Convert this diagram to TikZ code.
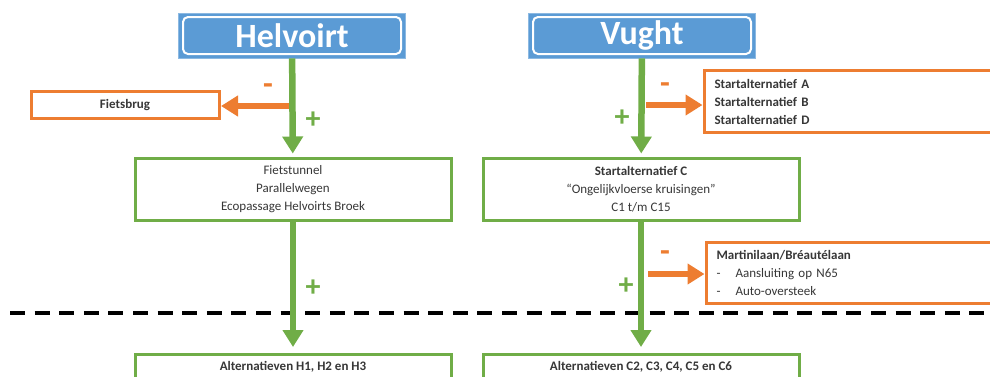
\documentclass[tikz,border=0pt]{standalone}
\usepackage{fontspec}
\setmainfont{Carlito}
\usetikzlibrary{arrows.meta,positioning}
\definecolor{signblue}{RGB}{91,155,213}
\definecolor{plusgreen}{RGB}{112,173,71}
\definecolor{minorange}{RGB}{237,125,49}
\definecolor{boxtext}{RGB}{55,55,55}
\tikzset
{
    placesign/.style = {rectangle, fill=signblue, draw=signblue!70, line width=0.8pt, minimum width=227pt, minimum height=45pt, text=white, font=\fontsize{34}{36}\selectfont\bfseries,
                        path picture={\draw[white, line width=2pt, rounded corners=5pt] ([shift={(4.5pt,4pt)}]path picture bounding box.south west) rectangle ([shift={(-4.5pt,-4pt)}]path picture bounding box.north east);}},
    greenbox/.style  = {rectangle, draw=plusgreen, line width=3pt, fill=white, align=center, text=boxtext, font=\fontsize{13}{18}\selectfont, minimum width=316pt, minimum height=62pt},
    orangebox/.style = {rectangle, draw=minorange, line width=3pt, fill=white, align=left, text=boxtext, font=\fontsize{13}{18}\selectfont, inner xsep=10pt},
    plusarrow/.style = {-{Triangle[width=20pt,length=17pt]}, draw=plusgreen, line width=6.5pt},
    minarrow/.style  = {-{Triangle[width=20pt,length=17pt]}, draw=minorange, line width=6.5pt},
    plussign/.style  = {text=plusgreen, font=\fontsize{30}{30}\selectfont\bfseries},
    minsign/.style   = {text=minorange, font=\fontsize{32}{32}\selectfont\bfseries}
}
\newcommand{\listdash}{\makebox[19pt][l]{-}}

\begin{document}
\begin{tikzpicture}[x=1pt, y=-1pt]
\useasboundingbox (0,0) rectangle (990,376);
\clip (0,0) rectangle (990,376);

%% dashed border between the two phases
\draw[black, line width=3.5pt, dash pattern=on 15pt off 9.6pt] (10,313) -- (1000,313);

%% Helvoirt
\node (helv)    [placesign]                         at (292,35.5)   {Helvoirt};
\node (fiets)   [orangebox, minimum width=188pt, minimum height=27pt, align=center, font=\fontsize{13}{18}\selectfont\bfseries] at (125,105) {Fietsbrug};
\node (tunnel)  [greenbox]                          at (293,189)    {Fietstunnel \\ Parallelwegen \\ Ecopassage Helvoirts Broek};
\node (alth)    [greenbox, anchor=north, minimum height=0pt, inner ysep=7pt, text depth=40pt, font=\fontsize{13}{18}\selectfont\bfseries] at (293,353) {Alternatieven H1, H2 en H3};
\coordinate (hsplit) at (289,106);
\node (hmin)    [minsign]                           at (268,89)     {-};
\node (hplus)   [plussign]                          at (313,120)    {+};
\node (hplus2)  [plussign]                          at (313,288)    {+};

%% Vught
\node (vught)   [placesign]                         at (642,35.5)   {Vught};
\node (startabd)[orangebox, anchor=north west, minimum height=62pt, text width=300pt] at (703,69)
    {\textbf{Startalternatief A} \\ \textbf{Startalternatief B} \\ \textbf{Startalternatief D}};
\node (startc)  [greenbox]                          at (641,189)    {\textbf{Startalternatief C} \\ “Ongelijkvloerse kruisingen” \\ C1 t/m C15};
\node (martini) [orangebox, anchor=north west, minimum height=61pt, text width=300pt] at (705,241)
    {\textbf{Martinilaan/Bréautélaan} \\ \listdash Aansluiting op N65 \\ \listdash Auto-oversteek};
\node (altc)    [greenbox, anchor=north, minimum height=0pt, inner ysep=7pt, text depth=40pt, font=\fontsize{13}{18}\selectfont\bfseries] at (641,353) {Alternatieven C2, C3, C4, C5 en C6};
\coordinate (vsplit) at (646,105);
\coordinate (csplit) at (648,274);
\node (vmin)    [minsign]                           at (665,88)     {-};
\node (vplus)   [plussign]                          at (622,118)    {+};
\node (cmin)    [minsign]                           at (665,256)    {-};
\node (cplus)   [plussign]                          at (626,286)    {+};

\path
(helv)      edge[plusarrow, shorten >=3pt]      (tunnel)
(tunnel)    edge[plusarrow, shorten >=6pt]      (alth)
(hsplit)    edge[minarrow, shorten >=0.5pt]     (hsplit -| fiets.east)
(vught)     edge[plusarrow, shorten >=3pt]      (startc)
(startc)    edge[plusarrow, shorten >=6pt]      (altc)
(vsplit)    edge[minarrow, shorten >=0.5pt]     (vsplit -| startabd.west)
(csplit)    edge[minarrow, shorten >=0.5pt]     (csplit -| martini.west);

\end{tikzpicture}
\end{document}
